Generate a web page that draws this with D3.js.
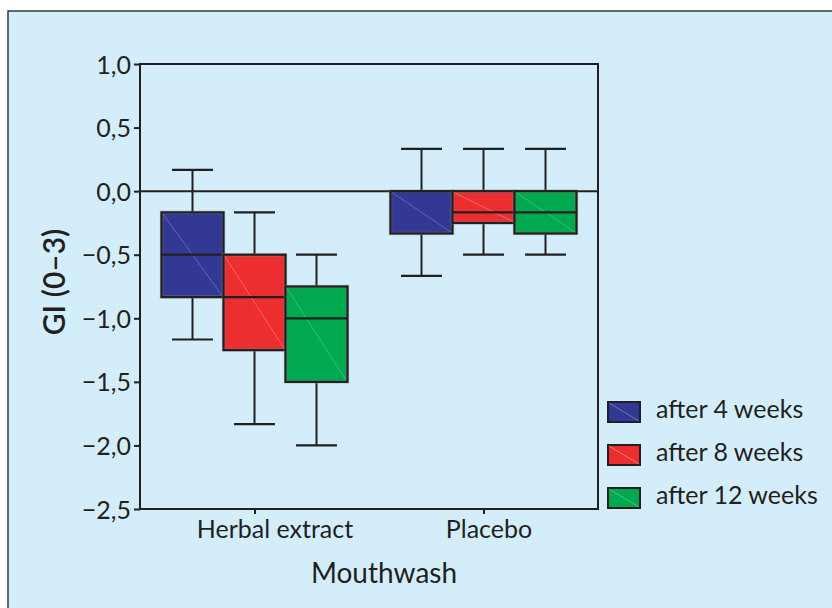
<!DOCTYPE html>
<html><head><meta charset="utf-8">
<script src="https://cdn.jsdelivr.net/npm/d3@7"></script>
<style>
html,body{margin:0;padding:0;background:#fff;}
svg{display:block;}
text{font-family:Lato,"Noto Sans",sans-serif;fill:#231f20;}
</style></head>
<body>
<svg id="c" width="832" height="608"></svg>
<script>
// ---- data ----
const groups = ["Herbal extract", "Placebo"];
const series = ["after 4 weeks", "after 8 weeks", "after 12 weeks"];
const colors = ["#333894", "#ec2e31", "#00a94f"];
const diagColors = ["#7e84c8", "#f58a8a", "#5cc98d"];
// per group, per series: [whiskerLow, q1, median, q3, whiskerHigh]
const herbalStats = [
  [-1.167, -0.833, -0.5, -0.167, 0.167],
  [-1.833, -1.25, -0.833, -0.5, -0.167],
  [-2.0, -1.5, -1.0, -0.75, -0.5]
];
const placeboStats = [
  [-0.667, -0.333, 0.0, 0.0, 0.333],
  [-0.5, -0.25, -0.167, 0.0, 0.333],
  [-0.5, -0.333, -0.167, 0.0, 0.333]
];
const yTicks = [1.0, 0.5, 0.0, -0.5, -1.0, -1.5, -2.0, -2.5];
const yDomain = [-2.5, 1.0];
const yLabel = "GI (0–3)";
const xLabel = "Mouthwash";

const stats = [herbalStats, placeboStats];
const svg = d3.select("#c");
const ink = "#231f20";

// background frame
svg.append("rect").attr("x", 8).attr("y", 11).attr("width", 840).attr("height", 620)
  .attr("fill", "#d3eefa").attr("stroke", "#3a3a3a").attr("stroke-width", 1.5);

const L = 140, R = 598, T = 64, B = 509;
const y = d3.scaleLinear().domain(yDomain).range([B, T]);
const x = d3.scalePoint().domain(groups).range([L, R]).padding(0.5);
const xs = d3.scaleBand().domain(series).range([-93, 93]).paddingInner(0);

const fmt = v => (v < 0 ? "\u2212" : "") + Math.abs(v).toFixed(1).replace(".", ",");

// y axis
const yAxis = d3.axisLeft(y).tickValues(yTicks).tickFormat(fmt).tickSize(6).tickPadding(3);
const gy = svg.append("g").attr("transform", `translate(${L},0)`).call(yAxis);
gy.select(".domain").remove();
gy.selectAll(".tick line").attr("stroke", ink).attr("stroke-width", 2);
gy.selectAll(".tick text").style("font-size", "25px").attr("fill", ink).attr("dy", "0.36em");

// x axis
const xAxis = d3.axisBottom(x).tickSize(5).tickPadding(6);
const gx = svg.append("g").attr("transform", `translate(0,${B})`).call(xAxis);
gx.select(".domain").remove();
gx.selectAll(".tick line").attr("stroke", ink).attr("stroke-width", 2);
const labelShift = [20, 5];
gx.selectAll(".tick text").style("font-size", "25px").attr("fill", ink).attr("y", 11)
  .attr("x", (d, i) => labelShift[i]);

// zero line
svg.append("line").attr("x1", L).attr("x2", R).attr("y1", y(0)).attr("y2", y(0))
  .attr("stroke", ink).attr("stroke-width", 2);

// boxes
groups.forEach((g, gi) => {
  series.forEach((s, si) => {
    const [lo, q1, med, q3, hi] = stats[gi][si];
    const x0 = x(g) + xs(s), w = xs.bandwidth(), cx = x0 + w / 2;
    const cap = w * 0.33;
    const gg = svg.append("g");
    // whiskers
    [[q3, hi], [q1, lo]].forEach(([a, b]) => {
      gg.append("line").attr("x1", cx).attr("x2", cx).attr("y1", y(a)).attr("y2", y(b))
        .attr("stroke", ink).attr("stroke-width", 2);
    });
    [hi, lo].forEach(v => {
      gg.append("line").attr("x1", cx - cap).attr("x2", cx + cap).attr("y1", y(v)).attr("y2", y(v))
        .attr("stroke", ink).attr("stroke-width", 2.2);
    });
    // box
    gg.append("rect").attr("x", x0).attr("y", y(q3)).attr("width", w).attr("height", y(q1) - y(q3))
      .attr("fill", colors[si]).attr("stroke", "#8a8f96").attr("stroke-opacity", 0.5).attr("stroke-width", 3.4);
    gg.append("line").attr("x1", x0 + 1).attr("y1", y(q3) + 1).attr("x2", x0 + w - 1).attr("y2", y(q1) - 1)
      .attr("stroke", diagColors[si]).attr("stroke-width", 0.8).attr("opacity", 0.8);
    gg.append("rect").attr("x", x0).attr("y", y(q3)).attr("width", w).attr("height", y(q1) - y(q3))
      .attr("fill", "none").attr("stroke", ink).attr("stroke-width", 2.2);
    gg.append("line").attr("x1", x0).attr("x2", x0 + w).attr("y1", y(med)).attr("y2", y(med))
      .attr("stroke", ink).attr("stroke-width", 2.2);
  });
});

// plot frame
svg.append("rect").attr("x", L).attr("y", T).attr("width", R - L).attr("height", B - T)
  .attr("fill", "none").attr("stroke", ink).attr("stroke-width", 2);

// axis labels
svg.append("text").attr("x", 384).attr("y", 583).attr("text-anchor", "middle")
  .style("font-size", "28px").text(xLabel);
svg.append("text").attr("transform", `translate(65,282) rotate(-90)`).attr("text-anchor", "middle")
  .style("font-size", "30px").style("font-weight", "600").text(yLabel);

// legend
const lg = svg.append("g");
series.forEach((s, i) => {
  const yy = 402 + i * 43;
  lg.append("rect").attr("x", 608).attr("y", yy).attr("width", 32).attr("height", 20)
    .attr("fill", colors[i]).attr("stroke", ink).attr("stroke-width", 2);
  lg.append("line").attr("x1", 609).attr("y1", yy + 1).attr("x2", 639).attr("y2", yy + 19)
    .attr("stroke", diagColors[i]).attr("stroke-width", 0.8);
  lg.append("text").attr("x", 656).attr("y", yy + 16).style("font-size", "25px").text(s);
});
</script>
</body></html>
